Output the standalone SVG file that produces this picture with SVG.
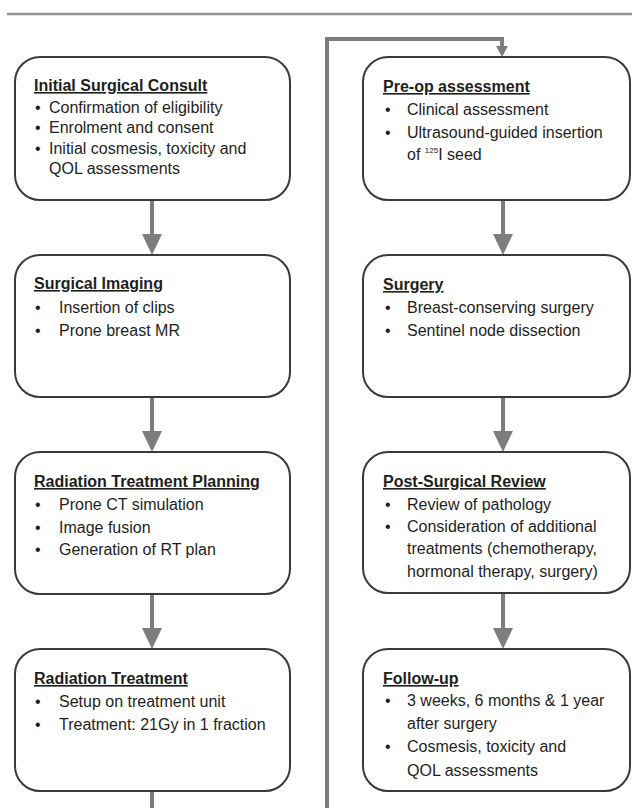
<svg xmlns="http://www.w3.org/2000/svg" width="632" height="808" viewBox="0 0 632 808">
<style>
.box{fill:#ffffff;stroke:#3a3a3a;stroke-width:2}
.t{font-family:"Liberation Sans",Arial,sans-serif;font-size:16px;fill:#1e1e1e}
.h{font-weight:bold;text-decoration:underline}
.sup{font-size:8px}
.ln{fill:none;stroke:#7d7d7d;stroke-width:4}
.ah{fill:#7d7d7d}
</style>
<rect width="632" height="808" fill="#ffffff"/>
<line x1="7" y1="14" x2="632" y2="14" stroke="#959595" stroke-width="2.5"/>

<g id="connectors">
  <line class="ln" x1="152" y1="200" x2="152" y2="236"/>
  <polygon class="ah" points="142,234 162,234 152,255"/>
  <line class="ln" x1="152" y1="397" x2="152" y2="433"/>
  <polygon class="ah" points="142,431 162,431 152,452"/>
  <line class="ln" x1="152" y1="594" x2="152" y2="630"/>
  <polygon class="ah" points="142,628 162,628 152,649"/>
  <line class="ln" x1="152" y1="791" x2="152" y2="808"/>
  <polyline class="ln" points="327,808 327,39 502,39 502,48"/>
  <polygon class="ah" points="496,46 508,46 502,57"/>
  <line class="ln" x1="503" y1="200" x2="503" y2="236"/>
  <polygon class="ah" points="493,234 513,234 503,255"/>
  <line class="ln" x1="503" y1="397" x2="503" y2="433"/>
  <polygon class="ah" points="493,431 513,431 503,452"/>
  <line class="ln" x1="503" y1="593" x2="503" y2="630"/>
  <polygon class="ah" points="493,628 513,628 503,649"/>
</g>

<g id="initial-consult">
  <rect class="box" x="15" y="57" width="275" height="143" rx="25"/>
  <text class="t h" x="34" y="91">Initial Surgical Consult</text>
  <text class="t" x="35" y="113">•</text><text class="t" x="49" y="113">Confirmation of eligibility</text>
  <text class="t" x="35" y="133">•</text><text class="t" x="49" y="133">Enrolment and consent</text>
  <text class="t" x="35" y="154">•</text><text class="t" x="49" y="154">Initial cosmesis, toxicity and</text>
  <text class="t" x="49" y="174">QOL assessments</text>
</g>

<g id="surgical-imaging">
  <rect class="box" x="15" y="255" width="275" height="142" rx="25"/>
  <text class="t h" x="34" y="289">Surgical Imaging</text>
  <text class="t" x="35" y="313">•</text><text class="t" x="59" y="313">Insertion of clips</text>
  <text class="t" x="35" y="336">•</text><text class="t" x="59" y="336">Prone breast MR</text>
</g>

<g id="rt-planning">
  <rect class="box" x="15" y="452" width="275" height="142" rx="25"/>
  <text class="t h" x="34" y="487">Radiation Treatment Planning</text>
  <text class="t" x="35" y="510">•</text><text class="t" x="59" y="510">Prone CT simulation</text>
  <text class="t" x="35" y="533">•</text><text class="t" x="59" y="533">Image fusion</text>
  <text class="t" x="35" y="555">•</text><text class="t" x="59" y="555">Generation of RT plan</text>
</g>

<g id="rt-treatment">
  <rect class="box" x="15" y="649" width="275" height="142" rx="25"/>
  <text class="t h" x="34" y="684">Radiation Treatment</text>
  <text class="t" x="35" y="707">•</text><text class="t" x="59" y="707">Setup on treatment unit</text>
  <text class="t" x="35" y="730">•</text><text class="t" x="59" y="730">Treatment: 21Gy in 1 fraction</text>
</g>

<g id="preop">
  <rect class="box" x="363" y="57" width="267" height="143" rx="25"/>
  <text class="t h" x="383" y="92">Pre-op assessment</text>
  <text class="t" x="385" y="115">•</text><text class="t" x="407" y="115">Clinical assessment</text>
  <text class="t" x="385" y="138">•</text><text class="t" x="407" y="138">Ultrasound-guided insertion</text>
  <text class="t" x="407" y="160">of <tspan class="sup" dy="-7">125</tspan><tspan dy="7">I seed</tspan></text>
</g>

<g id="surgery">
  <rect class="box" x="363" y="255" width="267" height="142" rx="25"/>
  <text class="t h" x="383" y="290">Surgery</text>
  <text class="t" x="385" y="313">•</text><text class="t" x="407" y="313">Breast-conserving surgery</text>
  <text class="t" x="385" y="336">•</text><text class="t" x="407" y="336">Sentinel node dissection</text>
</g>

<g id="post-surgical">
  <rect class="box" x="363" y="452" width="267" height="141" rx="25"/>
  <text class="t h" x="383" y="487">Post-Surgical Review</text>
  <text class="t" x="385" y="510">•</text><text class="t" x="407" y="510">Review of pathology</text>
  <text class="t" x="385" y="532">•</text><text class="t" x="407" y="532">Consideration of additional</text>
  <text class="t" x="407" y="554">treatments (chemotherapy,</text>
  <text class="t" x="407" y="577">hormonal therapy, surgery)</text>
</g>

<g id="follow-up">
  <rect class="box" x="363" y="649" width="267" height="142" rx="25"/>
  <text class="t h" x="383" y="684">Follow-up</text>
  <text class="t" x="385" y="706">•</text><text class="t" x="407" y="706">3 weeks, 6 months &amp; 1 year</text>
  <text class="t" x="407" y="729">after surgery</text>
  <text class="t" x="385" y="752">•</text><text class="t" x="407" y="752">Cosmesis, toxicity and</text>
  <text class="t" x="407" y="776">QOL assessments</text>
</g>
</svg>
